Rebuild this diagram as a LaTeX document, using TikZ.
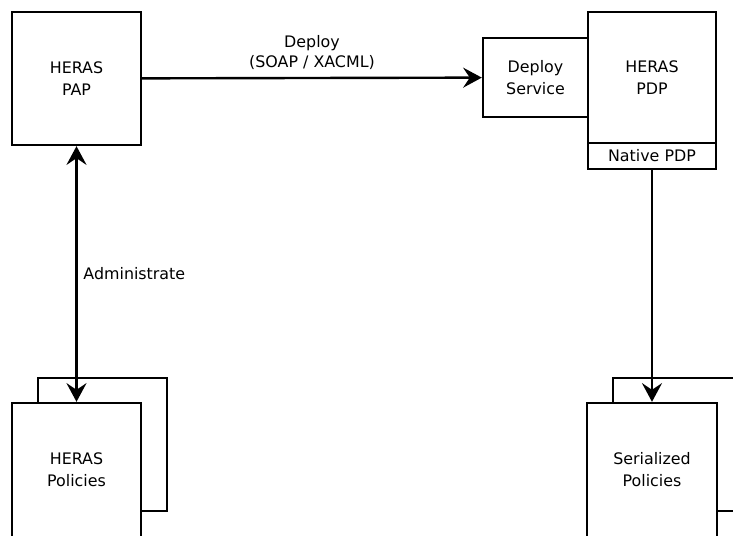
\documentclass[tikz,border=0pt]{standalone}
\usepackage{fontspec}
\setmainfont{DejaVu Sans}
\usepackage{xcolor}
\usepackage{tikz}
\usetikzlibrary{arrows.meta, positioning}

\begin{document}
\begin{tikzpicture}[
  x=0.75pt, y=-0.75pt,
  box/.style={rectangle, draw=black, fill=white, line width=1.8pt, align=center, inner sep=0pt, font=\fontsize{11.9}{16.5}\selectfont},
  arrow/.style={-{Stealth[length=14pt, width=15pt, inset=5pt]}, line width=1.8pt},
  dblarrow/.style={{Stealth[length=14pt, width=15pt, inset=5pt]}-{Stealth[length=14pt, width=15pt, inset=5pt]}, line width=1.8pt},
  lbl/.style={font=\fontsize{11.9}{15}\selectfont, align=center}
]
\useasboundingbox (0,0) rectangle (733,536);
\clip (0,0) rectangle (733,536);

% top row
\node[box, minimum width=96.75pt, minimum height=99.75pt] (pap) at (76.5,78.5) {HERAS\\PAP};
\node[box, minimum width=78.75pt, minimum height=59.25pt] (deploy) at (535.5,77.5) {Deploy\\Service};
\node[box, minimum width=96pt, minimum height=98.25pt] (pdp) at (652,77.5) {HERAS\\PDP};
\node[box, minimum width=96pt, minimum height=19.5pt] (native) at (652,156) {Native PDP};

% policy stacks
\node[box, minimum width=96.75pt, minimum height=99.75pt] (polback) at (102.5,444.5) {};
\node[box, minimum width=96.75pt, minimum height=100.5pt] (policies) at (76.5,470) {HERAS\\Policies};
\node[box, minimum width=96.75pt, minimum height=99.75pt] (serback) at (677.5,444.5) {};
\node[box, minimum width=97.5pt, minimum height=100.5pt] (serialized) at (652,470) {Serialized\\Policies};

\draw[arrow] (pap) -- node[lbl, above=2pt] {Deploy\\(SOAP / XACML)} (deploy);
\draw[dblarrow] (pap) -- node[lbl, right=1pt] {Administrate} (policies);
\draw[arrow] (native) -- (serialized);
\end{tikzpicture}
\end{document}
